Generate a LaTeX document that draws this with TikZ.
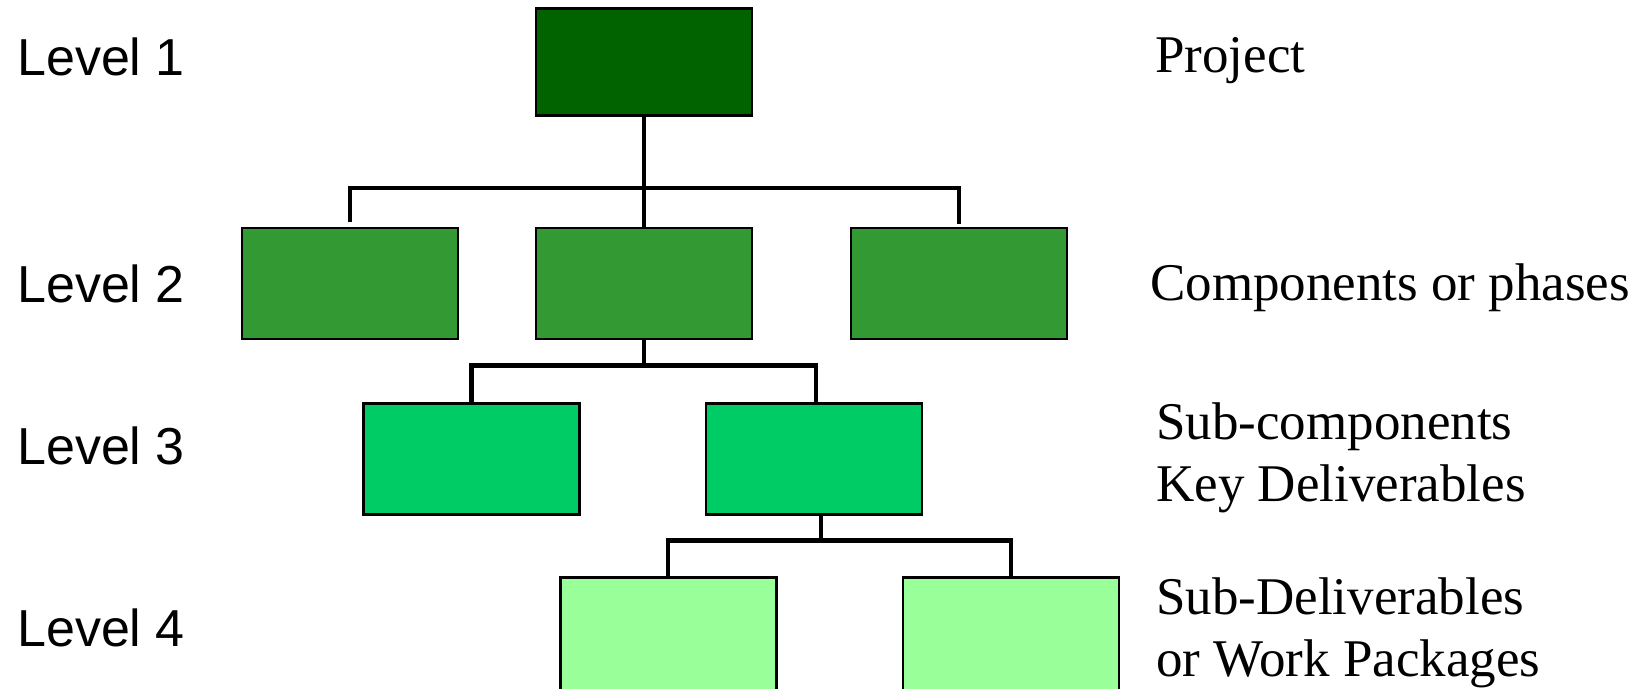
\documentclass[tikz,border=0pt]{standalone}
\usepackage{fontspec}
\setmainfont{Liberation Serif}
\newfontfamily\lvlfont{Liberation Sans}
\definecolor{cone}{HTML}{006300}
\definecolor{ctwo}{HTML}{339933}
\definecolor{cthree}{HTML}{00CC66}
\definecolor{cfour}{HTML}{99FF99}
\tikzset{
  wbs/.style={draw=black, line width=2.7pt, inner sep=0pt, minimum width=216pt, minimum height=111pt},
  conn/.style={draw=black, line width=4.5pt},
  lvl/.style={anchor=base west, inner sep=0pt, font=\lvlfont\fontsize{52}{60}\selectfont},
  desc/.style={anchor=base west, inner sep=0pt, font=\fontsize{53}{62}\selectfont}
}
\begin{document}
\begin{tikzpicture}[x=1pt,y=-1pt]
\clip (0,0) rectangle (1646,688);
\fill[white] (0,0) rectangle (1646,688);
% boxes
\node[wbs, fill=cone, minimum height=107pt] (top) at (644,62) {};
\node[wbs, fill=ctwo] (l2a) at (350,283.5) {};
\node[wbs, fill=ctwo] (l2b) at (644,283.5) {};
\node[wbs, fill=ctwo] (l2c) at (959,283.5) {};
\node[wbs, fill=cthree] (l3a) at (471.3,458.8) {};
\node[wbs, fill=cthree] (l3b) at (814,458.8) {};
\node[wbs, fill=cfour, minimum height=118pt] (l4a) at (668.2,636.3) {};
\node[wbs, fill=cfour, minimum height=118pt] (l4b) at (1010.9,636.3) {};
% connectors
\coordinate (j1) at (644,188);
\coordinate (j2) at (644,365.3);
\coordinate (j3) at (821,540.6);
\draw[conn] (top.south) -- (l2b.north);
\draw[conn] ([yshift=5pt]l2a.north) -- (l2a.north |- j1) -- (l2c.north |- j1) -- ([yshift=3pt]l2c.north);
\draw[conn] (l2b.south) -- (j2);
\draw[conn] (l3a.north) -- (l3a.north |- j2) -- ([xshift=2pt]l3b.north |- j2) -- ([xshift=2pt,yshift=-2pt]l3b.north);
\draw[conn] (l3b.south -| j3) -- (j3);
\draw[conn] (l4a.north) -- (l4a.north |- j3) -- (l4b.north |- j3) -- ([yshift=-2pt]l4b.north);
% level labels
\node[lvl] (lv1) at (17,75) {Level 1};
\node[lvl] (lv2) at (17,302) {Level 2};
\node[lvl] (lv3) at (17,464) {Level 3};
\node[lvl] (lv4) at (17,646) {Level 4};
% descriptions
\node[desc] (d1) at (1155,72) {Project};
\node[desc] (d2) at (1150,300) {Components or phases};
\node[desc] (d3a) at (1156,439) {Sub-components};
\node[desc] (d3b) at (1156,501) {Key Deliverables};
\node[desc] (d4a) at (1156,614) {Sub-Deliverables};
\node[desc] (d4b) at (1156,676) {or Work Packages};
\end{tikzpicture}
\end{document}
